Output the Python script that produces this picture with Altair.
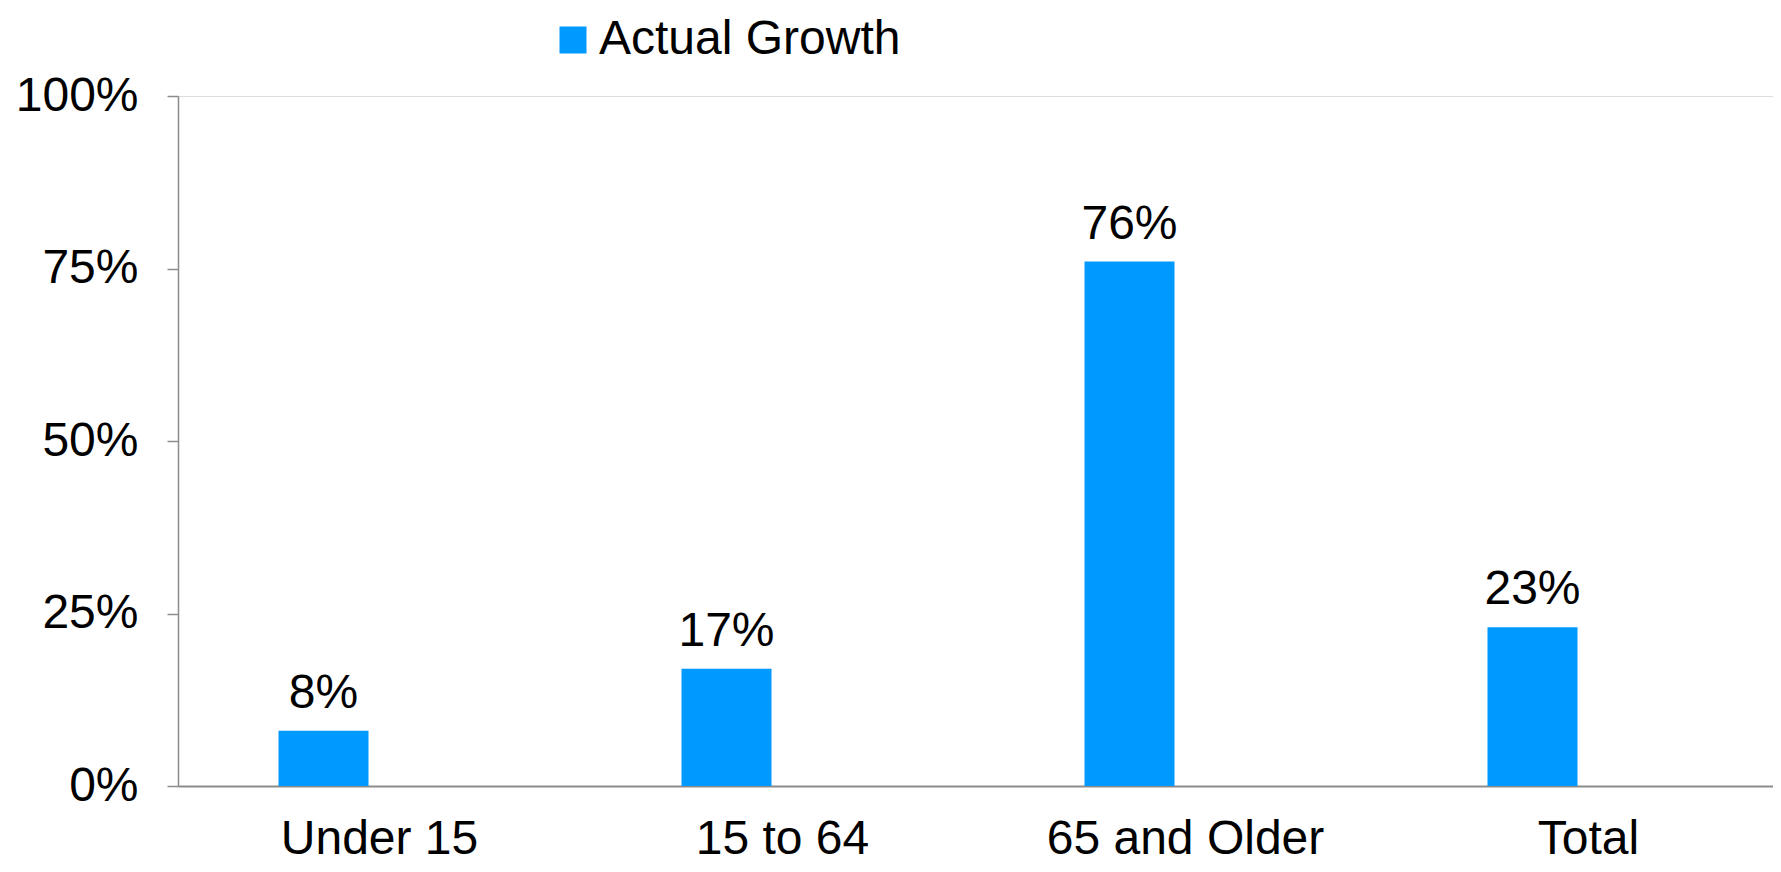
import altair as alt
import pandas as pd

categories = ["Under 15", "15 to 64", "65 and Older", "Total"]
values = [0.08, 0.17, 0.76, 0.23]
labels = ["8%", "17%", "76%", "23%"]
series = ["Actual Growth"] * 4

df = pd.DataFrame({"cat": categories, "val": values, "lab": labels, "series": series})

FONT = "Liberation Sans"
FS = 48
OFF = -56

base = alt.Chart(df)

xscale = alt.Scale(paddingInner=0, paddingOuter=0, range=[0, 1612])

bars = base.mark_bar(size=90, xOffset=OFF).encode(
    x=alt.X("cat:N", sort=categories, title=None, scale=xscale,
            axis=alt.Axis(labelAngle=0, ticks=False, domainColor="#8c8c8c", domainWidth=2,
                          labelFont=FONT, labelFontSize=FS, labelColor="black",
                          labelPadding=29, labelLimit=0, grid=False)),
    y=alt.Y("val:Q", title=None,
            scale=alt.Scale(domain=[0, 1], nice=False),
            axis=alt.Axis(values=[0, 0.25, 0.5, 0.75, 1], format=".0%", grid=False,
                          domainColor="#8c8c8c", domainWidth=1.5, tickColor="#8c8c8c",
                          tickWidth=1.5, tickSize=11, labelPadding=29,
                          labelFont=FONT, labelFontSize=FS, labelColor="black")),
    color=alt.Color("series:N", scale=alt.Scale(range=["#0099FF"]), title=None,
                    legend=alt.Legend(orient="none", legendX=371, legendY=-80,
                                      symbolType="square", symbolSize=729,
                                      symbolStrokeWidth=0, labelFont=FONT,
                                      labelFontSize=FS, labelColor="black",
                                      labelLimit=0, padding=0, labelOffset=2)),
)

text = base.mark_text(xOffset=OFF, dy=-13, baseline="bottom", font=FONT,
                      fontSize=FS, color="black").encode(
    x=alt.X("cat:N", sort=categories, scale=xscale),
    y=alt.Y("val:Q"),
    text="lab:N",
)

chart = (bars + text).properties(
    width=1595, height=690,
    autosize=alt.AutoSizeParams(type="none"),
    padding={"left": 170, "top": 88, "right": 0, "bottom": 78},
).configure_view(stroke=None).configure(background="white")

chart.save("out.html", embed_options={"renderer": "svg", "actions": False})
